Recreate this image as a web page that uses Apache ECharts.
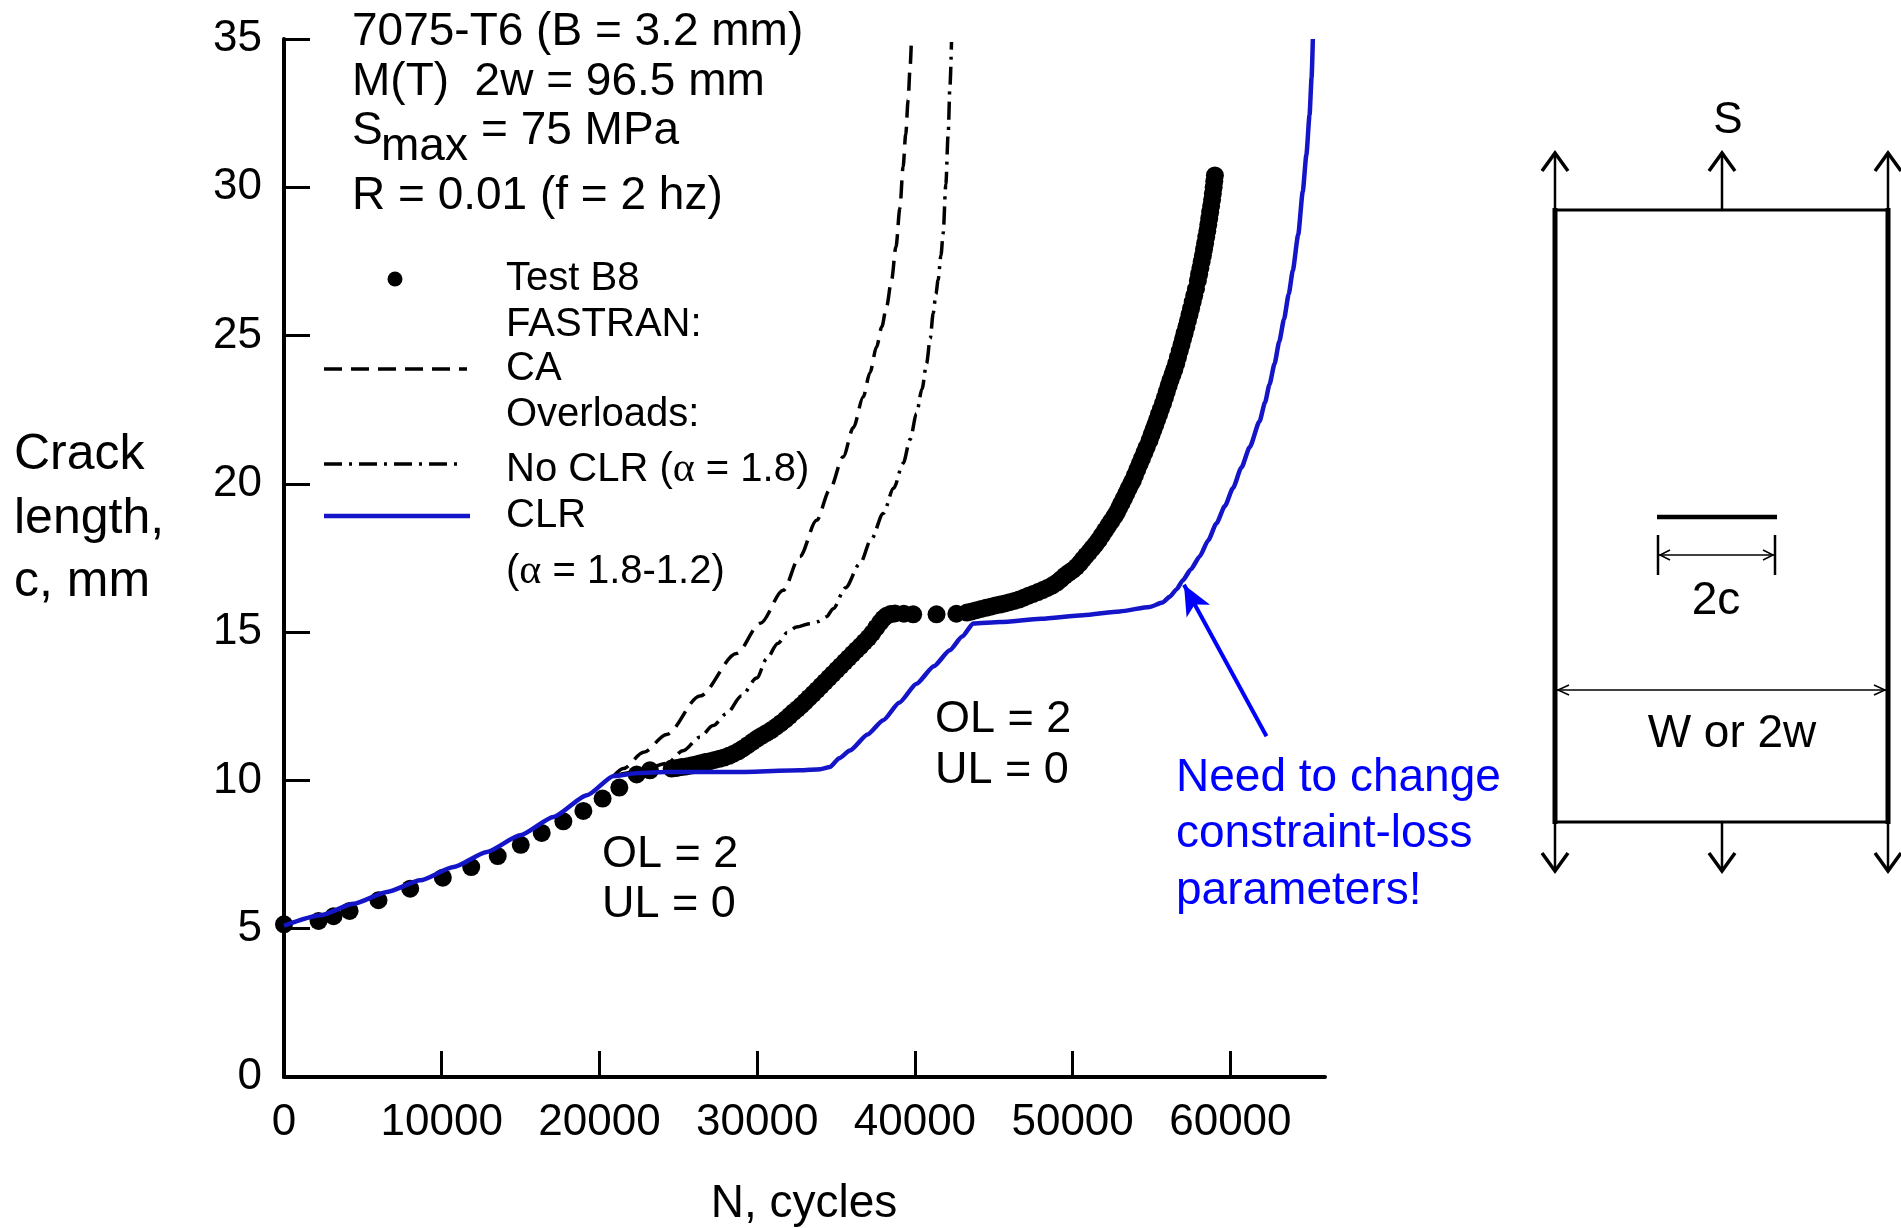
<!DOCTYPE html>
<html>
<head>
<meta charset="utf-8">
<script src="https://cdn.jsdelivr.net/npm/echarts@6/dist/echarts.min.js"></script>
<style>
  html, body { margin: 0; padding: 0; background: #fff; }
  #main { width: 1901px; height: 1228px; }
</style>
</head>
<body>
<div id="main"></div>
<script>
// tick labels
var xTickValues = [0, 10000, 20000, 30000, 40000, 50000, 60000];

// Test B8 (N, c)
var testN = [0, 2190, 3140, 4160, 5990, 8000, 10070, 11870, 13550, 15010, 16340, 17710, 18980, 20200, 21260, 22360, 23200,
  24580, 24900, 25200, 25500, 25800, 26100, 26400, 26700, 27000, 27300, 27600, 27900, 28200, 28500, 28800, 29100, 29400, 29700,
  30000, 30300, 30600, 30900, 31200, 31500, 31800, 32050, 32300, 32550, 32800, 33050, 33300, 33550, 33800, 34050, 34300, 34550,
  34800, 35050, 35300, 35550, 35800, 36050, 36300, 36550, 36800, 37050, 37300, 37550, 37800, 38000, 38200, 38450, 38730,
  39300, 39890, 41370, 42630,
  43300, 43600, 43900, 44200, 44500, 44800, 45100, 45400, 45700, 46000, 46300, 46600, 46900, 47200, 47500, 47800, 48100, 48400,
  48700, 49000, 49250, 49500, 49750, 50000, 50240, 50450, 50650, 50850, 51050, 51250, 51450, 51650, 51850, 52050, 52250, 52450,
  52650, 52800, 52950, 53100, 53250, 53400, 53550, 53700, 53820, 53950, 54100, 54250, 54400, 54550, 54700, 54880, 55000, 55120,
  55240, 55360, 55480, 55600, 55730, 55850, 55970, 56090, 56210, 56330, 56450, 56570, 56680, 56790, 56900, 57000, 57100, 57210,
  57310, 57410, 57510, 57610, 57710, 57820, 57940, 58020, 58100, 58180, 58260, 58330, 58400, 58470, 58540, 58600, 58660, 58720,
  58780, 58840, 58890, 58940, 58980, 59020];
var testC = [5.15, 5.26, 5.42, 5.60, 5.96, 6.35, 6.72, 7.08, 7.45, 7.83, 8.23, 8.62, 8.97, 9.39, 9.76, 10.20, 10.34,
  10.40, 10.42, 10.45, 10.47, 10.50, 10.54, 10.58, 10.62, 10.65, 10.69, 10.73, 10.77, 10.83, 10.90, 10.98, 11.08, 11.19, 11.30,
  11.41, 11.51, 11.60, 11.70, 11.81, 11.93, 12.06, 12.18, 12.30, 12.41, 12.53, 12.66, 12.79, 12.92, 13.05, 13.19, 13.32, 13.46,
  13.59, 13.73, 13.86, 14.00, 14.13, 14.27, 14.40, 14.53, 14.67, 14.81, 14.97, 15.15, 15.33, 15.46, 15.55, 15.61, 15.63,
  15.62, 15.60, 15.60, 15.62,
  15.66, 15.70, 15.74, 15.78, 15.82, 15.86, 15.90, 15.93, 15.97, 16.01, 16.05, 16.10, 16.16, 16.23, 16.29, 16.35, 16.42, 16.49,
  16.57, 16.67, 16.78, 16.90, 17.00, 17.09, 17.20, 17.32, 17.45, 17.58, 17.70, 17.83, 17.96, 18.10, 18.26, 18.42, 18.58, 18.74,
  18.90, 19.03, 19.19, 19.35, 19.51, 19.67, 19.84, 20.00, 20.12, 20.29, 20.48, 20.67, 20.86, 21.05, 21.24, 21.47, 21.65, 21.82,
  21.99, 22.17, 22.35, 22.52, 22.71, 22.91, 23.11, 23.31, 23.50, 23.68, 23.86, 24.06, 24.27, 24.48, 24.69, 24.89, 25.08, 25.29,
  25.50, 25.71, 25.92, 26.13, 26.35, 26.57, 26.85, 27.07, 27.28, 27.49, 27.70, 27.91, 28.11, 28.32, 28.53, 28.74, 28.95, 29.16,
  29.37, 29.58, 29.79, 30.00, 30.20, 30.40];

// FASTRAN CA
var caN = [20900, 21520, 22800, 24260, 26370, 28690, 30200, 31650, 32700, 33770, 34600, 35450, 36100, 36720, 37150, 37570,
  37900, 38200, 38520, 38800, 39050, 39250, 39420, 39570, 39690, 39780];
var caC = [10.15, 10.40, 10.95, 11.55, 12.85, 14.28, 15.30, 16.41, 17.55, 18.77, 19.80, 20.91, 21.90, 22.93, 23.75, 24.62,
  25.30, 25.97, 26.87, 28.00, 29.30, 30.69, 31.80, 32.94, 34.00, 35.00];

// Overloads, no CLR (alpha = 1.8)
var noClrN = [20900, 22500, 24260, 25300, 26370, 27200, 28060, 29000, 29970, 30600, 31300, 31900, 32500, 33300, 33900, 34400,
  34820, 35600, 36510, 37250, 37990, 38650, 39250, 39700, 40100, 40450, 40740, 40970, 41160, 41330, 41470, 41650, 41790, 41960,
  42110, 42220, 42320];
var noClrC = [10.15, 10.30, 10.57, 11.00, 11.46, 11.85, 12.25, 12.85, 13.45, 14.10, 14.62, 14.98, 15.17, 15.28, 15.36, 15.52,
  15.79, 16.50, 17.31, 18.15, 19.00, 19.85, 20.69, 21.50, 22.37, 23.20, 24.06, 24.90, 25.75, 26.40, 26.87, 27.70, 28.44, 30.10,
  31.81, 33.40, 34.90];

// Overloads, CLR (alpha = 1.8-1.2)
var clrN = [0, 2300, 4410, 6530, 8640, 10750, 12860, 14970, 17080, 19200, 20900, 22500, 24260, 28480, 32710, 34000, 34610,
  35200, 35880, 37000, 37990, 39000, 40100, 41200, 42210, 43000, 43690, 45400, 48000, 50660, 53000, 54880, 55700, 56150,
  56600, 56990, 57500, 58050, 58600, 59110, 59650, 60160, 60700, 61230, 61850, 62200, 62480, 62800, 63100, 63400, 63700,
  63960, 64300, 64590, 64820, 65020, 65150, 65230];
var clrC = [5.10, 5.45, 5.84, 6.24, 6.63, 7.08, 7.59, 8.15, 8.77, 9.50, 10.15, 10.25, 10.28, 10.28, 10.34, 10.38, 10.45,
  10.75, 11.01, 11.55, 12.03, 12.62, 13.26, 13.85, 14.39, 14.85, 15.29, 15.34, 15.45, 15.57, 15.70, 15.85, 16.00, 16.19,
  16.45, 16.75, 17.12, 17.55, 18.10, 18.66, 19.25, 19.85, 20.55, 21.24, 22.11, 22.75, 23.35, 24.05, 24.80, 25.55, 26.40,
  27.20, 28.40, 29.86, 31.10, 32.44, 33.70, 35.00];

// annotation arrow (data coords)
var arrowFrom = [62290, 11.49];
var arrowTo = [57060, 16.6];

function pairs(xs, ys) {
  return xs.map(function (x, i) { return [x, ys[i]]; });
}

var FONT = '"Liberation Sans", Arial, sans-serif';
var BLUE = '#1414c8';

function txt(x, y, s, size, opts) {
  opts = opts || {};
  return {
    type: 'text', silent: true, z: 10,
    style: {
      x: x, y: y, text: s, fill: opts.fill || '#000',
      font: size + 'px ' + FONT,
      align: opts.align || 'left', verticalAlign: 'middle',
      rich: opts.rich
    }
  };
}
function seg(x1, y1, x2, y2, w, opts) {
  opts = opts || {};
  return {
    type: 'line', silent: true, z: 10,
    shape: { x1: x1, y1: y1, x2: x2, y2: y2 },
    style: { stroke: opts.stroke || '#000', lineWidth: w, lineDash: opts.dash || null }
  };
}
function poly(points, w) {
  return {
    type: 'polyline', silent: true, z: 10,
    shape: { points: points },
    style: { stroke: '#000', lineWidth: w, fill: null }
  };
}

var legendRich = {
  a: { fontFamily: FONT, fontSize: 40, fill: '#000' },
  g: { fontFamily: '"Liberation Serif", serif', fontSize: 42, fill: '#000' }
};

var graphics = [
  // header
  txt(352, 32, '7075-T6 (B = 3.2 mm)', 46),
  txt(352, 82, 'M(T)  2w = 96.5 mm', 46),
  txt(352, 131, 'S', 46),
  txt(381, 147, 'max', 46),
  txt(481, 131, '= 75 MPa', 46),
  txt(352, 196, 'R = 0.01 (f = 2 hz)', 46),

  // legend
  { type: 'circle', silent: true, z: 10, shape: { cx: 395, cy: 279, r: 7.5 }, style: { fill: '#000' } },
  txt(506, 279, 'Test B8', 40),
  txt(506, 325, 'FASTRAN:', 40),
  seg(324, 369, 467, 369, 3.5, { dash: [18, 9] }),
  txt(506, 369, 'CA', 40),
  txt(506, 415, 'Overloads:', 40),
  seg(324, 464, 461, 464, 3.5, { dash: [18, 7, 3, 7] }),
  txt(506, 470, '{a|No CLR (}{g|α}{a| = 1.8)}', 40, { rich: legendRich }),
  seg(324, 516, 470, 516, 4.5, { stroke: BLUE }),
  txt(506, 516, 'CLR', 40),
  txt(506, 572, '{a|(}{g|α}{a| = 1.8-1.2)}', 40, { rich: legendRich }),

  // y axis title
  txt(14, 455, 'Crack', 50),
  txt(14, 519, 'length,', 50),
  txt(14, 582, 'c, mm', 50),

  // x axis title
  txt(804, 1204, 'N, cycles', 46, { align: 'center' }),

  // overload notes
  txt(602, 855, 'OL = 2', 45),
  txt(602, 905, 'UL = 0', 45),
  txt(935, 720, 'OL = 2', 45),
  txt(935, 771, 'UL = 0', 45),

  // blue note
  txt(1176, 778, 'Need to change', 46, { fill: '#0000ff' }),
  txt(1176, 834, 'constraint-loss', 46, { fill: '#0000ff' }),
  txt(1176, 891, 'parameters!', 46, { fill: '#0000ff' }),

  // specimen sketch
  seg(1555, 208, 1555, 824, 5),
  seg(1888, 208, 1888, 824, 5),
  seg(1555, 210, 1888, 210, 3),
  seg(1555, 822, 1888, 822, 3),
  txt(1728, 121, 'S', 44, { align: 'center' }),
  seg(1657, 517, 1777, 517, 4.5),
  seg(1658, 535, 1658, 575, 2.5),
  seg(1775, 535, 1775, 575, 2.5),
  seg(1658, 555, 1775, 555, 1.5),
  poly([[1670, 550], [1660, 555], [1670, 560]], 1.5),
  poly([[1763, 550], [1773, 555], [1763, 560]], 1.5),
  txt(1716, 601, '2c', 46, { align: 'center' }),
  seg(1557, 690, 1886, 690, 1.5),
  poly([[1569, 685], [1558, 690], [1569, 695]], 1.5),
  poly([[1874, 685], [1885, 690], [1874, 695]], 1.5),
  txt(1732, 734, 'W or 2w', 46, { align: 'center' })
];

[1555, 1722, 1888].forEach(function (x) {
  graphics.push(seg(x, 210, x, 153, 2.5));
  graphics.push(poly([[x - 13, 171], [x, 153], [x + 13, 171]], 3.5));
  graphics.push(seg(x, 822, x, 871, 2.5));
  graphics.push(poly([[x - 13, 853], [x, 871], [x + 13, 853]], 3.5));
});

var myChart = echarts.init(document.getElementById('main'));

var option = {
  backgroundColor: '#fff',
  animation: false,
  grid: { left: 284, right: 576, top: 39, bottom: 151 },
  xAxis: {
    type: 'value',
    min: 0,
    max: 66000,
    interval: 10000,
    splitLine: { show: false },
    axisLine: { onZero: false, lineStyle: { color: '#000', width: 4 } },
    axisTick: { inside: true, length: 26, customValues: xTickValues, lineStyle: { color: '#000', width: 3 } },
    axisLabel: {
      customValues: xTickValues, color: '#000', fontSize: 44, fontFamily: FONT, margin: 24,
      formatter: function (v) { return String(v); }
    }
  },
  yAxis: {
    type: 'value',
    min: 0,
    max: 35,
    interval: 5,
    splitLine: { show: false },
    axisLine: { onZero: false, lineStyle: { color: '#000', width: 4 } },
    axisTick: { inside: true, length: 26, lineStyle: { color: '#000', width: 3 } },
    axisLabel: { color: '#000', fontSize: 44, fontFamily: FONT, margin: 22 }
  },
  series: [
    {
      name: 'CA',
      type: 'line',
      data: pairs(caN, caC),
      showSymbol: false,
      smooth: 0.3,
      smoothMonotone: 'x',
      lineStyle: { color: '#000', width: 3.5, type: [18, 9] },
      z: 2
    },
    {
      name: 'No CLR',
      type: 'line',
      data: pairs(noClrN, noClrC),
      showSymbol: false,
      smooth: 0.3,
      smoothMonotone: 'x',
      lineStyle: { color: '#000', width: 3.5, type: [18, 7, 3, 7] },
      z: 2
    },
    {
      name: 'Test B8',
      type: 'scatter',
      data: pairs(testN, testC),
      symbol: 'circle',
      symbolSize: 18,
      itemStyle: { color: '#000', opacity: 1 },
      clip: false,
      z: 3
    },
    {
      name: 'CLR',
      type: 'line',
      data: pairs(clrN, clrC),
      showSymbol: false,
      smooth: 0.2,
      smoothMonotone: 'x',
      lineStyle: { color: BLUE, width: 4.5 },
      z: 4,
      markLine: {
        silent: true,
        symbol: ['none', 'arrow'],
        symbolSize: [20, 30],
        label: { show: false },
        lineStyle: { color: '#0000ff', width: 4, type: 'solid' },
        data: [[{ coord: arrowFrom }, { coord: arrowTo }]]
      }
    }
  ],
  graphic: graphics
};
myChart.setOption(option);
</script>
</body>
</html>
